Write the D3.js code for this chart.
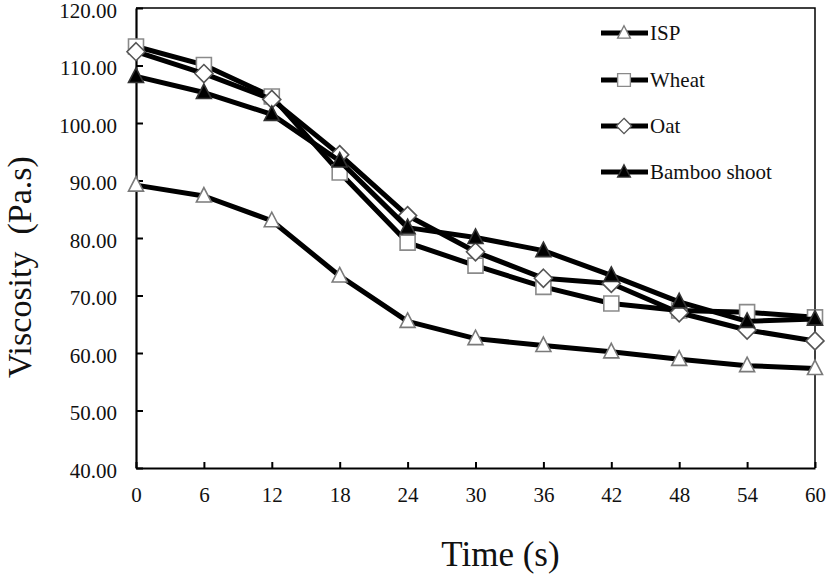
<!DOCTYPE html>
<html>
<head>
<meta charset="utf-8">
<script src="https://cdn.jsdelivr.net/npm/d3@7"></script>
<style>
html,body{margin:0;padding:0;background:#fff;}
svg{display:block;}
svg text{font-family:"Liberation Serif","Times New Roman",serif !important;}
</style>
</head>
<body>
<svg id="chart" width="827" height="576"></svg>
<script>
const times = [0, 6, 12, 18, 24, 30, 36, 42, 48, 54, 60];
const isp    = [89.2, 87.3, 83.0, 73.4, 65.5, 62.5, 61.3, 60.2, 58.9, 57.8, 57.3];
const wheat  = [113.3, 110.1, 104.6, 91.4, 79.2, 75.2, 71.5, 68.6, 67.4, 67.1, 66.2];
const oat    = [112.4, 108.6, 104.1, 94.5, 83.9, 77.6, 73.0, 72.1, 67.0, 64.0, 62.1];
const bamboo = [108.1, 105.3, 101.5, 93.4, 81.8, 80.1, 77.8, 73.5, 68.9, 65.5, 65.9];
const seriesNames = ["ISP", "Wheat", "Oat", "Bamboo shoot"];
const yTicks = [40, 50, 60, 70, 80, 90, 100, 110, 120];
const xTicks = times;

(function () {
const FONT = "Liberation Serif, Times New Roman, serif";
const series = [
  {name: seriesNames[0], values: isp,    marker: "triangle", fill: "#fff", stroke: "#7a7a7a"},
  {name: seriesNames[1], values: wheat,  marker: "square",   fill: "#fff", stroke: "#8a8a8a"},
  {name: seriesNames[2], values: oat,    marker: "diamond",  fill: "#fff", stroke: "#555"},
  {name: seriesNames[3], values: bamboo, marker: "triangle", fill: "#000", stroke: "#333"}
];

const svg = d3.select("#chart");
const mLeft = 136, mRight = 815, mTop = 8, mBottom = 468;
const x = d3.scaleLinear().domain([0, 60]).range([mLeft, mRight]);
const y = d3.scaleLinear().domain([40, 120]).range([mBottom, mTop]);

svg.append("path")
  .attr("d", `M${mLeft},${mTop}H${mRight}V${mBottom}`)
  .attr("fill", "none").attr("stroke", "#000").attr("stroke-width", 1.5);

const yAxis = d3.axisLeft(y).tickValues(yTicks).tickFormat(d3.format(".2f")).tickSizeInner(-7).tickSizeOuter(0).tickPadding(19);
const gy = svg.append("g").attr("transform", `translate(${mLeft},0)`).call(yAxis).attr("font-family", FONT);
gy.select(".domain").attr("stroke-width", 2.2);
gy.selectAll(".tick line").attr("stroke-width", 2);
gy.selectAll(".tick text").attr("font-size", 21).attr("fill", "#111").attr("dy", "0.45em");

const xAxis = d3.axisBottom(x).tickValues(xTicks).tickFormat(d3.format("d")).tickSizeInner(-6).tickSizeOuter(0).tickPadding(19);
const gx = svg.append("g").attr("transform", `translate(0,${mBottom})`).call(xAxis).attr("font-family", FONT);
gx.select(".domain").attr("stroke-width", 2.2);
gx.selectAll(".tick line").attr("stroke-width", 2);
gx.selectAll(".tick text").attr("font-size", 21).attr("fill", "#111");

svg.append("text").attr("x", (mLeft + mRight) / 2 + 25).attr("y", 566).attr("text-anchor", "middle")
  .attr("font-size", 35).attr("fill", "#111").text("Time (s)");
svg.append("text").attr("transform", "translate(31,267) rotate(-90)").attr("text-anchor", "middle")
  .attr("font-size", 34).attr("fill", "#111").attr("xml:space", "preserve").text("Viscosity  (Pa.s)");

function markerPath(type) {
  if (type === "triangle") return "M0,-8.5L7.5,6L-7.5,6Z";
  if (type === "square") return "M-7.5,-7.5H7.5V7.5H-7.5Z";
  return "M0,-9L9,0L0,9L-9,0Z";
}

const line = d3.line().x((d, i) => x(times[i])).y(d => y(d));

series.forEach(s => {
  const g = svg.append("g");
  g.append("path").attr("d", line(s.values)).attr("fill", "none")
    .attr("stroke", "#000").attr("stroke-width", 5).attr("stroke-linejoin", "round");
  g.selectAll("path.m").data(s.values).enter().append("path").attr("class", "m")
    .attr("transform", (d, i) => `translate(${x(times[i])},${y(d)})`)
    .attr("d", markerPath(s.marker))
    .attr("fill", s.fill).attr("stroke", s.stroke).attr("stroke-width", 1.6);
});

const legY = [33, 80, 126, 172];
series.forEach((s, i) => {
  const g = svg.append("g").attr("transform", `translate(0,${legY[i]})`);
  g.append("line").attr("x1", 601).attr("x2", 648).attr("y1", 0).attr("y2", 0)
    .attr("stroke", "#000").attr("stroke-width", 5);
  g.append("path").attr("transform", "translate(624,0) scale(0.85)").attr("d", markerPath(s.marker))
    .attr("fill", s.fill).attr("stroke", s.stroke).attr("stroke-width", 1.6);
  g.append("text").attr("x", 650).attr("y", 0).attr("dy", "0.35em")
    .attr("font-size", 21).attr("fill", "#111").text(s.name);
});
})();
</script>
</body>
</html>
